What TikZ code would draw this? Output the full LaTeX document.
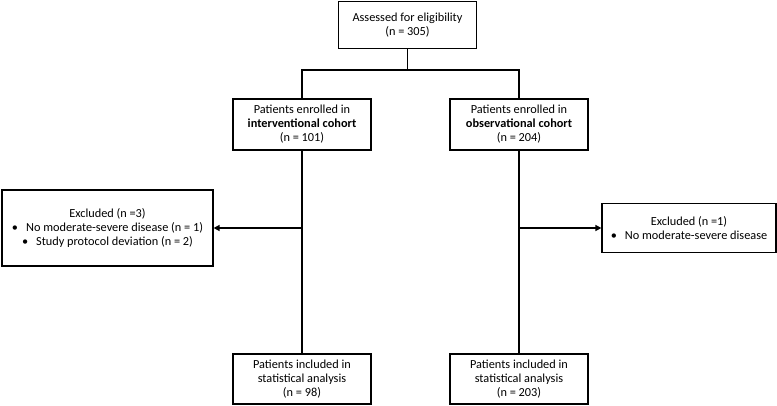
\documentclass[tikz,border=0pt]{standalone}
\usepackage{fontspec}
\setmainfont{Carlito}
\usetikzlibrary{arrows.meta}

\tikzset{every picture/.style={line width=1.5pt}}
\tikzset{
  box/.style={draw, line width=1.2pt, align=center, inner sep=0pt,
    font=\fontsize{12.3}{14}\selectfont},
  flow/.style={line width=1.6pt},
  excl/.style={line width=1.6pt, -{Triangle[length=6pt,width=6pt]}}
}
\newcommand{\bul}{\textbullet\hspace{8pt}}

\begin{document}
\begin{tikzpicture}[x=1pt,y=1pt,yscale=-1,xscale=1]
\useasboundingbox (0,0) rectangle (777,406);

% Text Node
\node [box, minimum width=138, minimum height=47] (assess) at (407.5,25) {Assessed for eligibility\\(n = 305)};
% Text Node
\node [box, minimum width=138, minimum height=51] (inter) at (302,124.5) {Patients enrolled in\\\textbf{interventional cohort}\\(n = 101)};
% Text Node
\node [box, minimum width=138, minimum height=51] (obs) at (519,124.5) {Patients enrolled in\\\textbf{observational cohort}\\(n = 204)};
% Text Node
\node [box, minimum width=211, minimum height=76] (exclA) at (107.5,228) {Excluded (n =3)\\\bul No moderate-severe disease (n = 1)\\\bul Study protocol deviation (n = 2)};
% Text Node
\node [box, minimum width=174, minimum height=49] (exclB) at (689,228) {Excluded (n =1)\\\bul No moderate-severe disease};
% Text Node
\node [box, minimum width=138, minimum height=50] (anaA) at (302,379) {Patients included in\\statistical analysis\\(n = 98)};
% Text Node
\node [box, minimum width=138, minimum height=50] (anaB) at (519,379) {Patients included in\\statistical analysis\\(n = 203)};

\coordinate (split) at (407.5,70);
\coordinate (tapA) at (inter.south |- exclA.east);
\coordinate (tapB) at (obs.south |- exclB.west);

%Straight Lines
\draw [flow] (assess.south) -- (split);
%Straight Lines
\draw [flow] (inter.north) -- (inter.north |- split) -- (obs.north |- split) -- (obs.north);
%Straight Lines
\draw [flow] (inter.south) -- (anaA.north);
%Straight Lines
\draw [flow] (obs.south) -- (anaB.north);
%Straight Lines
\draw [excl] (tapA) -- (exclA.east);
%Straight Lines
\draw [excl] (tapB) -- (exclB.west);

\end{tikzpicture}
\end{document}
